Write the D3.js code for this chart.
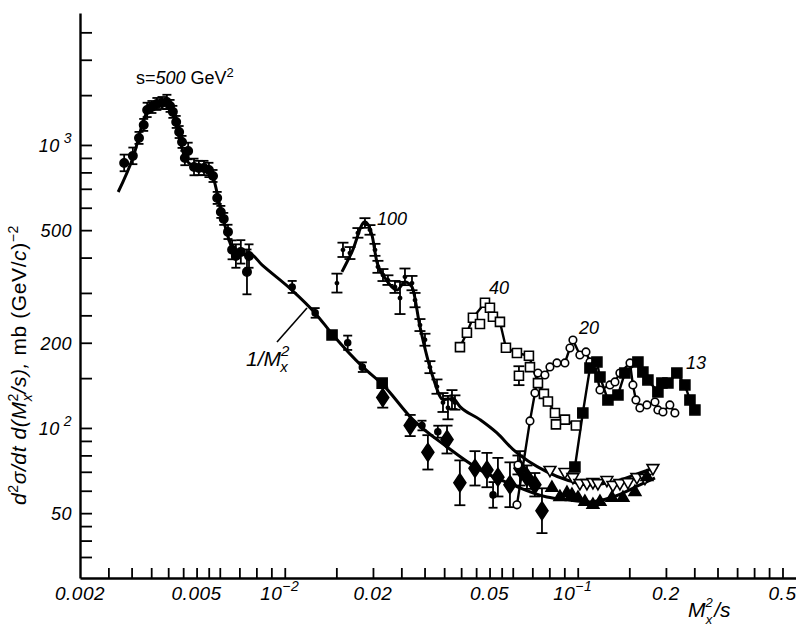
<!DOCTYPE html>
<html>
<head>
<meta charset="utf-8">
<script src="https://cdn.jsdelivr.net/npm/d3@7"></script>
<style>
  body { margin: 0; background: #fff; }
  svg { display: block; font-family: "Liberation Sans", Arial, sans-serif; }
  .it { font-style: italic; }
</style>
</head>
<body>
<div id="container"></div>
<script>
// Canvas size
const width = 796;
const height = 627;

// ---- data: [M^2/s, d2sigma, relative error] ----
// s = 500 GeV^2, filled circles
const s500 = [
  [0.00283, 864, .07], [0.00303, 915, .07], [0.00318, 1059, .05], [0.00330, 1177, .05],
  [0.00339, 1330, .06], [0.00352, 1362, .05], [0.00366, 1396, .05], [0.00381, 1407, .05],
  [0.00396, 1419, .06], [0.00406, 1374, .05], [0.00415, 1309, .05], [0.00426, 1206, .05],
  [0.00436, 1111, .05], [0.00446, 1025, .05], [0.00456, 899, .06], [0.00468, 952, .07],
  [0.00490, 836, .07], [0.00509, 829, .06], [0.00530, 829, .06], [0.00551, 816, .06],
  [0.00569, 777, .05], [0.00588, 650, .05], [0.00605, 580, .05], [0.00619, 548, .05],
  [0.00640, 493, .06], [0.00661, 426, .08], [0.00681, 405, .1], [0.00708, 419, .1],
  [0.00743, 356, .2], [0.00755, 405, .1]
];
// small dots along the 1/M^2 branch
const dots500 = [
  [0.0106, 315, .05], [0.0127, 255, .04], [0.0164, 200, .06], [0.0184, 164, .04],
  [0.0294, 102, .04], [0.0333, 97, .05], [0.0514, 58, .11]
];
// large filled squares
const squares500 = [[0.0145, 213], [0.0215, 144]];
// large diamonds
const diamonds = [
  [0.0216, 128, .085], [0.0268, 102, .09], [0.0308, 82, .15], [0.0358, 91, .12],
  [0.0396, 64, .2], [0.0446, 72, .15], [0.0490, 71, .15], [0.0534, 67, .17],
  [0.0587, 63, .2], [0.0635, 72, .15], [0.0671, 67, .1], [0.0714, 63, .1], [0.0755, 51, .2]
];
// s = 100 GeV^2, error bars
const s100 = [
  [0.01507, 325, .08], [0.01580, 426, .06], [0.01669, 415, .05], [0.01777, 489, .04],
  [0.01878, 530, .04], [0.01954, 501, .04], [0.02032, 426, .05], [0.02080, 371, .05],
  [0.02164, 347, .05], [0.02250, 333, .04], [0.02378, 315, .05], [0.02474, 288, .14],
  [0.02572, 342, .07], [0.02718, 325, .06], [0.02784, 283, .06], [0.02894, 231, .05],
  [0.03010, 205, .05], [0.03130, 164, .05], [0.03308, 140, .06], [0.03468, 123, .08],
  [0.03606, 118, .1], [0.03722, 126, .08], [0.0381, 123, .06]
];
// s = 40 GeV^2, open squares
const s40 = [
  [0.03963, 193], [0.04186, 217], [0.04388, 245], [0.04824, 277], [0.05016, 266],
  [0.05135, 247], [0.05426, 237], [0.05688, 192], [0.06202, 184], [0.06814, 180],
  [0.07316, 144], [0.07666, 132], [0.07912, 124], [0.08362, 113], [0.09042, 107], [0.09858, 102]
];
const s40Extra = [[0.04638, 233], [0.0687, 164], [0.08426, 103]];
const s40Err = [[0.0630, 153, .08]];
// s = 20 GeV^2, open circles
const s20 = [
  [0.06202, 53.5], [0.0687, 105.9], [0.07144, 132.9], [0.07316, 156.4], [0.07727, 153.9],
  [0.08038, 164.3], [0.08492, 169.7], [0.09042, 169.7], [0.09406, 191.7], [0.0963, 204.6],
  [0.1017, 181.1], [0.1067, 185.6], [0.1101, 171.1], [0.1145, 167.0], [0.1191, 136.2],
  [0.1288, 141.9], [0.1340, 145.4], [0.1393, 156.4], [0.1508, 169.7], [0.1543, 141.9],
  [0.158, 125.6], [0.1630, 117.7], [0.1723, 120.6], [0.1835, 123.5], [0.1878, 115.8],
  [0.1954, 113.9], [0.2063, 120.6], [0.2146, 113.0]
];
const s20Err = [[0.06252, 74.0, .08]];
// s = 13 GeV^2, filled squares
const s13 = [
  [0.09782, 72.8], [0.1041, 113.0], [0.1101, 162.9], [0.1163, 171.1], [0.1191, 151.4],
  [0.1268, 125.6], [0.1372, 130.8], [0.1449, 156.4], [0.1605, 171.1], [0.1669, 157.7],
  [0.1736, 147.8], [0.1878, 134.0], [0.1938, 144.2], [0.2032, 144.2], [0.2180, 156.4],
  [0.2322, 141.9], [0.2416, 125.6], [0.2512, 115.8]
];
// open inverted triangles
const triDown = [
  [0.08038, 71.1], [0.09042, 69.9], [0.0963, 67.1], [0.1017, 63.9], [0.1075, 63.9],
  [0.1127, 64.4], [0.1172, 63.9], [0.1258, 65.5], [0.1319, 62.9], [0.1393, 63.9],
  [0.1484, 64.4], [0.1592, 67.1], [0.1696, 66.6], [0.1806, 72.2]
];
// filled triangles
const triUp = [
  [0.08164, 61.4], [0.08692, 57.0], [0.0919, 58.9], [0.09556, 58.0], [0.1002, 56.6],
  [0.1058, 54.8], [0.1127, 53.5], [0.1191, 54.8], [0.1309, 56.6], [0.1427, 56.6],
  [0.1568, 59.4], [0.1723, 67.1]
];

// fitted curves
const curve500X = [0.00270, 0.00303, 0.00339, 0.00375, 0.00399, 0.00422, 0.00453, 0.00482,
  0.00534, 0.00564, 0.00610, 0.00661, 0.00703, 0.00761, 0.00836, 0.01058, 0.01268, 0.01461,
  0.01849, 0.02164, 0.02738, 0.03577, 0.04638, 0.0601, 0.0785, 0.0919, 0.1101, 0.1319, 0.1630, 0.1835];
const curve500Y = [682, 900, 1308, 1408, 1408, 1226, 922, 850, 836, 790, 570, 433, 409, 412,
  377, 307, 255, 213, 164, 142, 107, 85.7, 71.1, 62.9, 57.0, 55.7, 54.8, 57.0, 62.9, 66.6];
const curve100X = [0.01567, 0.01696, 0.01878, 0.01984, 0.02063, 0.02198, 0.02416, 0.02572,
  0.02718, 0.02894, 0.03206, 0.03468, 0.03751, 0.03963, 0.04638, 0.0530, 0.0601, 0.0785,
  0.0919, 0.1075, 0.1319, 0.1630, 0.1864];
const curve100Y = [356, 419, 535, 481, 386, 339, 307, 328, 315, 228, 151, 126, 127, 119,
  107, 96, 84, 70, 65.5, 62.9, 64.4, 69.3, 72.8];

// axis ticks and labels
const xTicks = [0.0025, 0.003, 0.0035, 0.004, 0.0045, 0.005, 0.0055, 0.006, 0.007, 0.008, 0.009,
  0.01, 0.015, 0.02, 0.025, 0.03, 0.035, 0.04, 0.045, 0.05, 0.055, 0.06, 0.07, 0.08, 0.09,
  0.1, 0.15, 0.2, 0.25, 0.3, 0.35, 0.4, 0.45, 0.5];
const xLabelVals = [0.002, 0.005, 0.01, 0.02, 0.05, 0.1, 0.2, 0.5];
const xLabelBase = ["0.002", "0.005", "10", "0.02", "0.05", "10", "0.2", "0.5"];
const xLabelExp = ["", "", "\u22122", "", "", "\u22121", "", ""];
const yTicks = [35, 40, 45, 50, 60, 70, 80, 90, 100, 150, 200, 250, 300, 400, 500,
  600, 700, 800, 900, 1000, 1500, 2000, 2500];
const yLabelVals = [1000, 500, 200, 100, 50];
const yLabelBase = ["10", "500", "200", "10", "50"];
const yLabelExp = ["3", "", "", "2", ""];

const svg = d3.select("#container")
  .append("svg")
  .attr("width", width)
  .attr("height", height);

const x = d3.scaleLog().domain([0.002, 0.556]).range([80, 796]);
const y = d3.scaleLog().domain([29.5, 2926]).range([578, 13]);

// axes (ticks pointing inward)
svg.append("g")
  .attr("transform", "translate(0,578)")
  .call(d3.axisTop(x).tickValues(xTicks).tickSize(10).tickSizeOuter(0).tickFormat(""))
  .call(g => g.select(".domain").attr("stroke-width", 2.4))
  .call(g => g.selectAll(".tick line").attr("stroke-width", 1.8));

svg.append("g")
  .attr("transform", "translate(80,0)")
  .call(d3.axisRight(y).tickValues(yTicks).tickSize(12).tickSizeOuter(0).tickFormat(""))
  .call(g => g.select(".domain").attr("stroke-width", 2.4))
  .call(g => g.selectAll(".tick line").attr("stroke-width", 1.8));

// x tick labels
const xl = svg.append("g").attr("class", "it").attr("font-size", 19).attr("letter-spacing", 0.5);
xLabelVals.forEach((v, i) => {
  const t = xl.append("text")
    .attr("x", x(v) + (xLabelExp[i] ? -5 : 0))
    .attr("y", 600)
    .attr("text-anchor", "middle")
    .text(xLabelBase[i]);
  if (xLabelExp[i]) {
    t.append("tspan").attr("dy", -9).attr("font-size", 14).text(xLabelExp[i]);
  }
});

// y tick labels
const yl = svg.append("g").attr("class", "it").attr("font-size", 18).attr("letter-spacing", 0.5);
yLabelVals.forEach((v, i) => {
  const t = yl.append("text")
    .attr("x", 72)
    .attr("y", y(v) + 7)
    .attr("text-anchor", "end")
    .text(yLabelBase[i]);
  if (yLabelExp[i]) {
    t.append("tspan").attr("dx", 4).attr("dy", -9).attr("font-size", 14).text(yLabelExp[i]);
  }
});

// axis titles
const yt = svg.append("text")
  .attr("transform", "translate(26,365) rotate(-90)")
  .attr("text-anchor", "middle")
  .attr("font-size", 21)
  .attr("letter-spacing", 0.6);
yt.append("tspan").attr("class", "it").text("d");
yt.append("tspan").attr("dy", -8).attr("font-size", 14).text("2");
yt.append("tspan").attr("dy", 8).attr("class", "it").text("\u03c3/dt d(M");
yt.append("tspan").attr("dy", -8).attr("font-size", 14).text("2");
yt.append("tspan").attr("dx", -8).attr("dy", 14).attr("font-size", 14).attr("class", "it").text("x");
yt.append("tspan").attr("dy", -6).attr("class", "it").text("/s), ");
yt.append("tspan").text("mb (GeV/");
yt.append("tspan").attr("class", "it").text("c");
yt.append("tspan").text(")");
yt.append("tspan").attr("dy", -8).attr("font-size", 14).text("\u22122");

// x title: M with stacked 2 / x, then /s
const xt = svg.append("text").attr("x", 688).attr("y", 617).attr("font-size", 21).attr("class", "it");
xt.append("tspan").text("M");
xt.append("tspan").attr("dy", -10).attr("font-size", 13).text("2");
xt.append("tspan").attr("dx", -7).attr("dy", 17).attr("font-size", 13).text("x");
xt.append("tspan").attr("dy", -7).attr("dx", 2).text("/s");

// curves
const smooth = d3.line().x(d => x(d[0])).y(d => y(d[1])).curve(d3.curveMonotoneX);
const straight = d3.line().x(d => x(d[0])).y(d => y(d[1]));

svg.append("path")
  .datum(curve500X.map((v, i) => [v, curve500Y[i]]))
  .attr("fill", "none").attr("stroke", "#000").attr("stroke-width", 3)
  .attr("d", smooth);
svg.append("path")
  .datum(curve100X.map((v, i) => [v, curve100Y[i]]))
  .attr("fill", "none").attr("stroke", "#000").attr("stroke-width", 3)
  .attr("d", smooth);
[s40, s20, s13].forEach(s => {
  svg.append("path")
    .datum(s)
    .attr("fill", "none").attr("stroke", "#000").attr("stroke-width", 2.4)
    .attr("d", straight);
});

// error bars
function errBars(data, cap) {
  const g = svg.append("g").attr("stroke", "#000").attr("stroke-width", 1.8);
  g.selectAll("line.v").data(data).enter().append("line")
    .attr("x1", d => x(d[0])).attr("x2", d => x(d[0]))
    .attr("y1", d => y(d[1] * (1 + d[2]))).attr("y2", d => y(d[1] / (1 + d[2])));
  g.selectAll("line.t").data(data).enter().append("line")
    .attr("x1", d => x(d[0]) - cap).attr("x2", d => x(d[0]) + cap)
    .attr("y1", d => y(d[1] * (1 + d[2]))).attr("y2", d => y(d[1] * (1 + d[2])));
  g.selectAll("line.b").data(data).enter().append("line")
    .attr("x1", d => x(d[0]) - cap).attr("x2", d => x(d[0]) + cap)
    .attr("y1", d => y(d[1] / (1 + d[2]))).attr("y2", d => y(d[1] / (1 + d[2])));
}
errBars(s500, 4.5);
errBars(dots500, 4.5);
errBars(diamonds, 5.5);
errBars(s100, 5.5);
errBars(s40Err, 5.5);
errBars(s20Err, 5.5);

// markers
function marks(data, path, fill, rot) {
  svg.append("g").selectAll("path").data(data).enter().append("path")
    .attr("transform", d => `translate(${x(d[0])},${y(d[1])})` + (rot ? ` rotate(${rot})` : ""))
    .attr("d", path)
    .attr("fill", fill)
    .attr("stroke", "#000")
    .attr("stroke-width", 1.6);
}
const circle = d3.symbol(d3.symbolCircle, 55)();
const openCircle = d3.symbol(d3.symbolCircle, 45)();
const smallDot = d3.symbol(d3.symbolCircle, 28)();
const tinyDot = d3.symbol(d3.symbolCircle, 8)();
const square = d3.symbol(d3.symbolSquare, 81)();
const bigSquare = d3.symbol(d3.symbolSquare, 100)();
const triangle = d3.symbol(d3.symbolTriangle, 60)();
const diamond = "M0,-9L6,0L0,9L-6,0Z";

marks(s100, tinyDot, "#000");
marks(s500, circle, "#000");
marks(dots500, smallDot, "#000");
marks(squares500, bigSquare, "#000");
marks(diamonds, diamond, "#000");
marks(s40, square, "#fff");
marks(s40Extra, square, "#fff");
marks(s40Err, square, "#fff");
marks(s20, openCircle, "#fff");
marks(s20Err, openCircle, "#fff");
marks(s13, bigSquare, "#000");
marks(triDown, triangle, "#fff", 180);
marks(triUp, triangle, "#000");

// annotations
const ann = svg.append("g").attr("font-size", 18);
const sLab = ann.append("text").attr("x", 136).attr("y", 84);
sLab.append("tspan").text("s=");
sLab.append("tspan").attr("class", "it").text("500");
sLab.append("tspan").text(" GeV");
sLab.append("tspan").attr("dy", -7).attr("font-size", 13).text("2");

ann.append("text").attr("class", "it").attr("x", 377).attr("y", 225).text("100");
ann.append("text").attr("class", "it").attr("x", 489).attr("y", 294).text("40");
ann.append("text").attr("class", "it").attr("x", 579).attr("y", 334).text("20");
ann.append("text").attr("class", "it").attr("x", 686).attr("y", 369).text("13");

const mLab = ann.append("text").attr("class", "it").attr("x", 246).attr("y", 366).attr("font-size", 21);
mLab.append("tspan").text("1/M");
mLab.append("tspan").attr("dy", -10).attr("font-size", 15).text("2");
mLab.append("tspan").attr("dx", -9).attr("dy", 16).attr("font-size", 15).text("x");

svg.append("line")
  .attr("x1", 277).attr("y1", 342).attr("x2", 307).attr("y2", 308)
  .attr("stroke", "#000").attr("stroke-width", 1.6);
</script>
</body>
</html>
